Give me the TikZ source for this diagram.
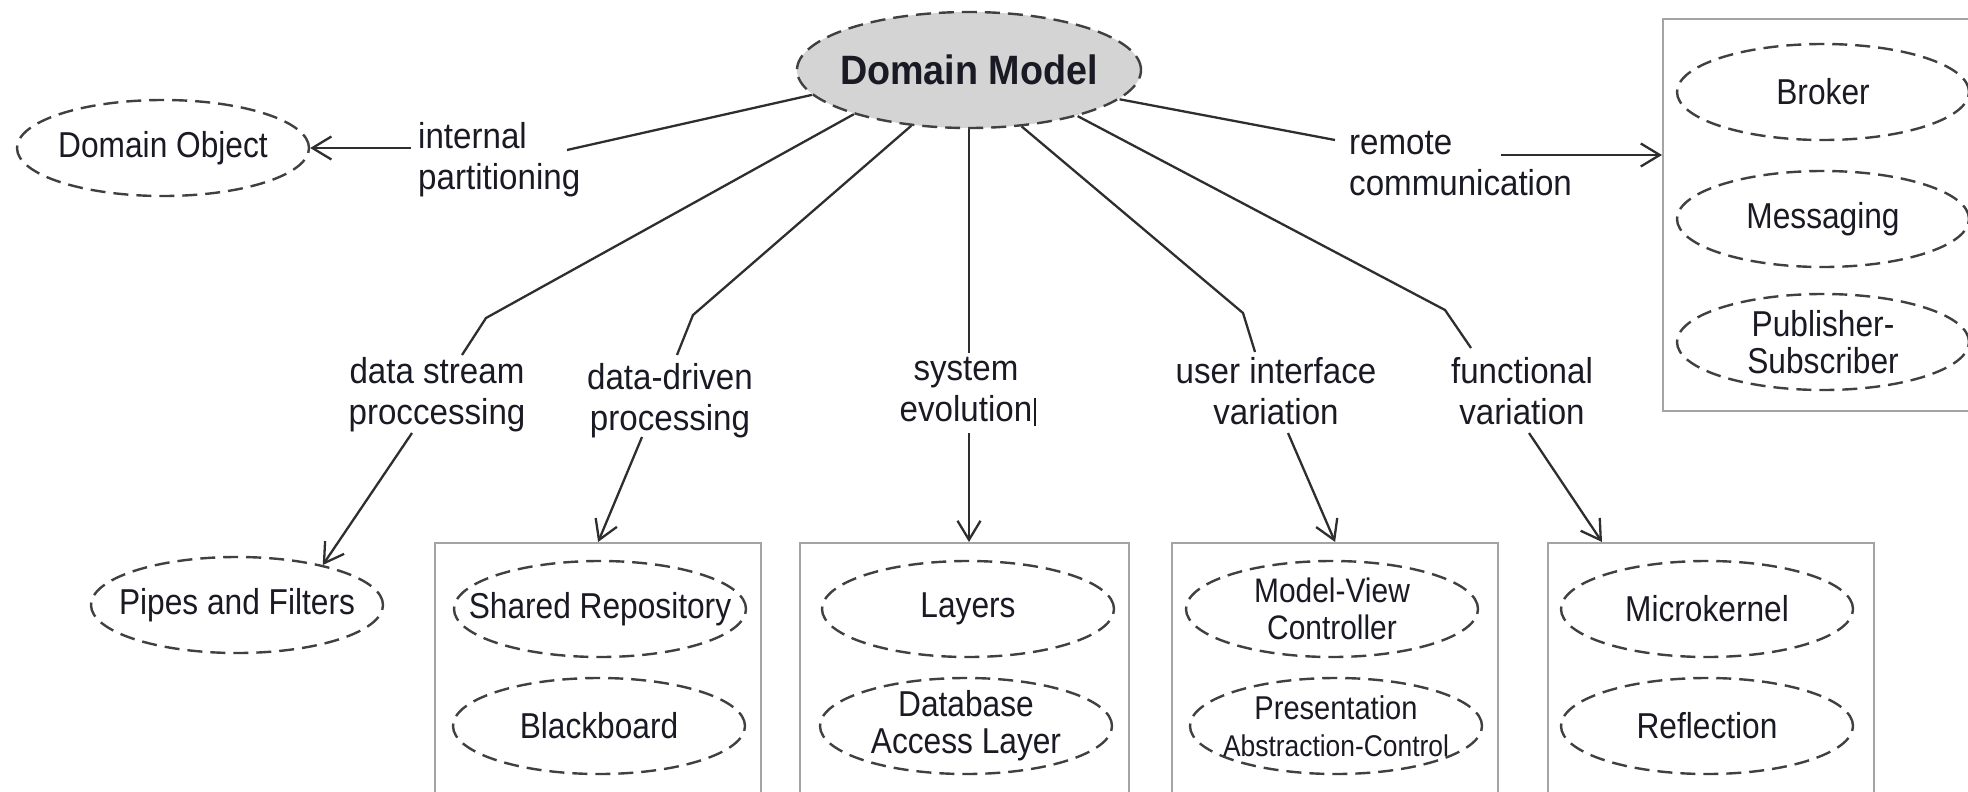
\documentclass[tikz,border=0pt]{standalone}
\usepackage{fontspec}
\setmainfont{Liberation Sans}
\newfontfamily\lblfont[FakeStretch=0.92]{Liberation Sans}
\newfontfamily\ellfont[FakeStretch=0.88]{Liberation Sans}
\usetikzlibrary{shapes.geometric,arrows.meta}
\definecolor{ink}{HTML}{1A1A24}
\definecolor{wire}{HTML}{2E2E2E}
\definecolor{dashc}{HTML}{404040}
\definecolor{framec}{HTML}{A4A4A4}
\definecolor{modelfill}{HTML}{D4D4D4}

\begin{document}
\begin{tikzpicture}[x=1pt,y=-1pt,
  pattern node/.style={ellipse, draw=dashc, line width=2.4pt,
    dash pattern=on 15pt off 8pt, minimum width=292pt, minimum height=96pt,
    inner sep=0pt},
  pattxt/.style={font=\ellfont\fontsize{36}{37}\selectfont, text=ink,
    align=center, inner sep=0pt},
  model node/.style={ellipse, draw=dashc, fill=modelfill, line width=2.4pt,
    dash pattern=on 15pt off 8pt, minimum width=344pt, minimum height=116pt,
    inner sep=0pt},
  modeltxt/.style={font=\lblfont\bfseries\fontsize{41}{44}\selectfont,
    text=ink, inner sep=0pt},
  lbl/.style={font=\lblfont\fontsize{36}{41}\selectfont, text=ink,
    inner sep=0pt, align=center, anchor=north},
  grpbox/.style={draw=framec, line width=2.2pt, anchor=north west,
    minimum height=300pt, inner sep=0pt},
  wirel/.style={draw=wire, line width=2.3pt},
  arrl/.style={draw=wire, line width=2.3pt,
    -{Straight Barb[length=19pt,width=23pt]}},
]
\clip (0,0) rectangle (1968,792);

% central node
\node[model node, label={[modeltxt]center:Domain Model}] (dm) at (969,70) {};

% left and right partners
\node[pattern node, label={[pattxt]center:Domain Object}] (do) at (163,148) {};
\node[lbl, align=left, anchor=north west] (ip) at (418,122) {internal\\partitioning};
\node[lbl, align=left, anchor=north west] (rc) at (1349,131) {remote\\communication};

\node[grpbox, minimum width=330pt, minimum height=392pt] (rb) at (1662,18) {};
\node[pattern node, label={[pattxt]center:Broker}] (broker) at (1823,92) {};
\node[pattern node, label={[pattxt]center:Messaging}] (msg) at (1823,219) {};
\node[pattern node, label={[pattxt]center:{Publisher-\\Subscriber}}] (pubsub) at (1823,342) {};

% branch labels
\node[lbl] (ds) at (437,357) {data stream\\proccessing};
\node[lbl] (dd) at (670,363) {data-driven\\processing};
\node[lbl] (se) at (966,357) {system\\evolution\rlap{\hspace{2pt}\rule[-5pt]{1.5pt}{28pt}}};
\node[lbl] (ui) at (1276,357) {user interface\\variation};
\node[lbl] (fv) at (1522,357) {functional\\variation};

% pattern groups
\node[pattern node, label={[pattxt]center:Pipes and Filters}] (pf) at (237,605) {};

\node[grpbox, minimum width=326pt] (ddbox) at (434,542) {};
\node[pattern node, label={[pattxt]center:Shared Repository}] (shrep) at (600,609) {};
\node[pattern node, label={[pattxt]center:Blackboard}] (bb) at (599,726) {};

\node[grpbox, minimum width=329pt] (sebox) at (799,542) {};
\node[pattern node, label={[pattxt]center:Layers}] (layers) at (968,609) {};
\node[pattern node, label={[pattxt]center:{Database\\Access Layer}}] (dal) at (966,726) {};

\node[grpbox, minimum width=326pt] (uibox) at (1171,542) {};
\node[pattern node, label={[pattxt, font=\ellfont\fontsize{34}{37}\selectfont]center:{Model-View\\Controller}}] (mvc) at (1332,609) {};
\node[pattern node, label={[pattxt, font=\ellfont\fontsize{33}{37}\selectfont]center:{Presentation\\{\fontsize{30}{37}\selectfont Abstraction-Control}}}] (pac) at (1336,726) {};

\node[grpbox, minimum width=326pt] (fvbox) at (1547,542) {};
\node[pattern node, label={[pattxt]center:Microkernel}] (mk) at (1707,609) {};
\node[pattern node, label={[pattxt]center:Reflection}] (refl) at (1707,726) {};

% connector end points beside the labels
\coordinate (ipa) at (567,150);
\coordinate (ipb) at (411,148);
\coordinate (rca) at (1335,140);
\coordinate (rcb) at (1501,155);
\coordinate (dsk) at (486,318);
\coordinate (dsa) at (462,355);
\coordinate (dsb) at (412,433);
\coordinate (ddk) at (693,315);
\coordinate (dda) at (677,355);
\coordinate (ddb) at (642,437);
\coordinate (sea) at (969,353);
\coordinate (seb) at (969,433);
\coordinate (uik) at (1243,313);
\coordinate (uia) at (1255,352);
\coordinate (uib) at (1288,433);
\coordinate (fvk) at (1445,310);
\coordinate (fva) at (1471,348);
\coordinate (fvb) at (1529,433);
\coordinate (fvt) at (1602,542);

% spokes from the domain model
\draw[wirel] (dm.189) -- (ipa);
\draw[wirel] (dm.349.5) -- (rca);
\draw[wirel] (dm.201.5) -- (dsk) -- (dsa);
\draw[wirel] (dm.224.5) -- (ddk) -- (dda);
\draw[wirel] (dm.south) -- (sea);
\draw[wirel] (dm.313.5) -- (uik) -- (uia);
\draw[wirel] (dm.337.8) -- (fvk) -- (fva);

% arrows to the patterns
\draw[arrl] (ipb) -- (do.east);
\draw[arrl] (rcb) -- (rcb -| rb.west);
\draw[arrl] (dsb) -- (pf.25);
\draw[arrl] (ddb) -- (ddbox.north);
\draw[arrl] (seb) -- (seb |- sebox.north);
\draw[arrl] (uib) -- (uibox.north);
\draw[arrl] (fvb) -- (fvt);
\end{tikzpicture}
\end{document}
